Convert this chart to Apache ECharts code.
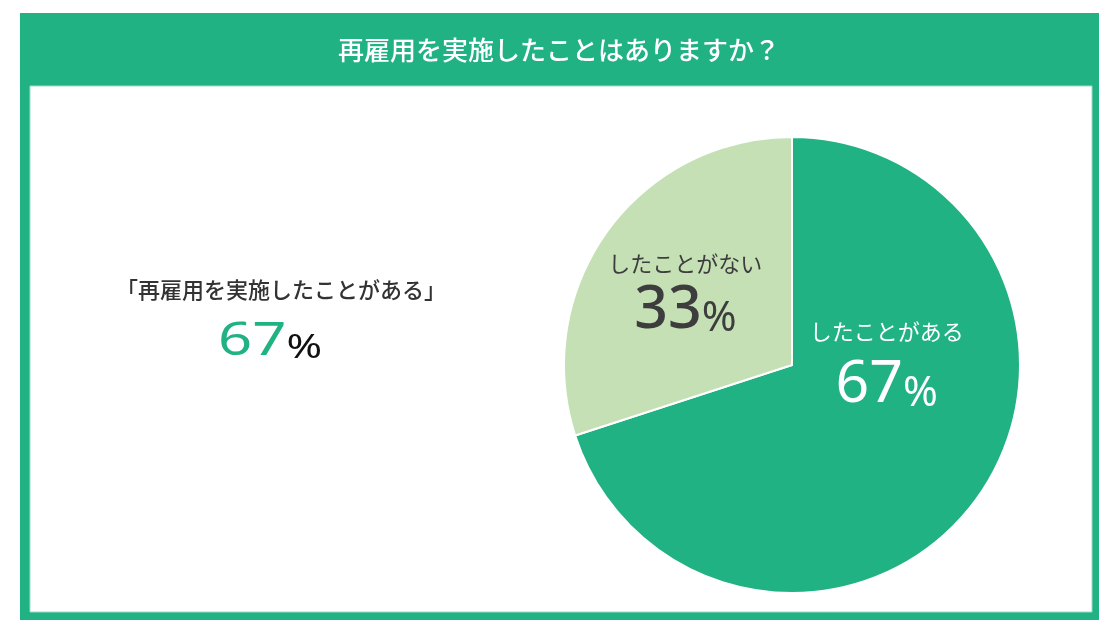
<!DOCTYPE html>
<html>
<head>
<meta charset="utf-8">
<script src="https://cdn.jsdelivr.net/npm/echarts@6/dist/echarts.min.js"></script>
<style>
  html, body { margin: 0; background: #fff; }
  #myEcharts { width: 1118px; height: 636px; }
</style>
</head>
<body>
<div id="myEcharts"></div>
<script>
// データ
const chartTitle = '再雇用を実施したことはありますか？';
const answers = ['したことがある', 'したことがない'];
const sliceValues = [70, 30];          // 円グラフ上の扇形の大きさ
const percentLabels = ['67', '33'];    // 表示されているパーセント
const headline = '「再雇用を実施したことがある」';
const headlinePercent = '67';

const GREEN = '#21b284';
const LIGHT = '#c5e0b4';
const DARK = '#3d3d3d';
const JP = '"Noto Sans CJK JP", "Noto Sans", sans-serif';
const NUM = '"Noto Sans", "Noto Sans CJK JP", sans-serif';

// ラベル位置の微調整
const labelShift = [{ dx: 0, dy: -69 }, { dx: -12, dy: -3 }];

function initChart() {
  const chart = echarts.init(document.getElementById('myEcharts'));
  chart.setOption({
    animation: false,
    graphic: [
      { type: 'rect', z: -10, silent: true, shape: { x: 20, y: 13, width: 1079, height: 607 }, style: { fill: GREEN } },
      { type: 'rect', z: -9, silent: true, shape: { x: 30, y: 86, width: 1062, height: 526 }, style: { fill: '#fff', stroke: '#9fdcc6', lineWidth: 1 } },
      {
        type: 'text', x: 559, y: 50, silent: true,
        style: { text: chartTitle, fill: '#fff', font: '500 26px ' + JP, align: 'center', verticalAlign: 'middle' }
      },
      {
        type: 'text', x: 281, y: 290, silent: true,
        style: { text: headline, fill: '#333', font: '500 22px ' + JP, align: 'center', verticalAlign: 'middle' }
      },
      {
        type: 'text', x: 270, y: 340, scaleX: 1.3, silent: true,
        style: {
          text: '{g|' + headlinePercent + '}{k|%}',
          align: 'center', verticalAlign: 'middle',
          rich: {
            g: { fontSize: 46, fontFamily: NUM, fill: GREEN, color: GREEN, verticalAlign: 'bottom', lineHeight: 50 },
            k: { fontSize: 33, fontFamily: NUM, fill: '#111', color: '#111', verticalAlign: 'bottom', lineHeight: 50 }
          }
        }
      }
    ],
    series: [{
      type: 'pie',
      center: [792, 365],
      radius: 228,
      startAngle: 90,
      clockwise: true,
      emphasis: { disabled: true },
      itemStyle: { borderColor: '#fff', borderWidth: 2 },
      labelLine: { show: false },
      label: {
        show: true,
        position: 'inside',
        formatter: p => {
          const s = p.dataIndex === 0 ? 'w' : 'd';
          return '{n' + s + '|' + p.name + '}\n{v' + s + '|' + percentLabels[p.dataIndex] + '}{p' + s + '|%}';
        },
        rich: {
          nw: { fontSize: 22, fontFamily: JP, color: '#fff', lineHeight: 34 },
          vw: { fontSize: 59, fontFamily: NUM, color: '#fff', lineHeight: 66, verticalAlign: 'bottom' },
          pw: { fontSize: 42, fontFamily: NUM, color: '#fff', lineHeight: 66, verticalAlign: 'bottom' },
          nd: { fontSize: 22, fontFamily: JP, color: DARK, lineHeight: 34 },
          vd: { fontSize: 59, fontFamily: NUM, color: DARK, lineHeight: 60, fontWeight: 500, verticalAlign: 'bottom' },
          pd: { fontSize: 42, fontFamily: NUM, color: DARK, lineHeight: 60, verticalAlign: 'bottom' }
        }
      },
      labelLayout: p => labelShift[p.dataIndex],
      data: answers.map((name, i) => ({
        name: name,
        value: sliceValues[i],
        itemStyle: { color: i === 0 ? GREEN : LIGHT }
      }))
    }]
  });
}

initChart();
</script>
</body>
</html>
